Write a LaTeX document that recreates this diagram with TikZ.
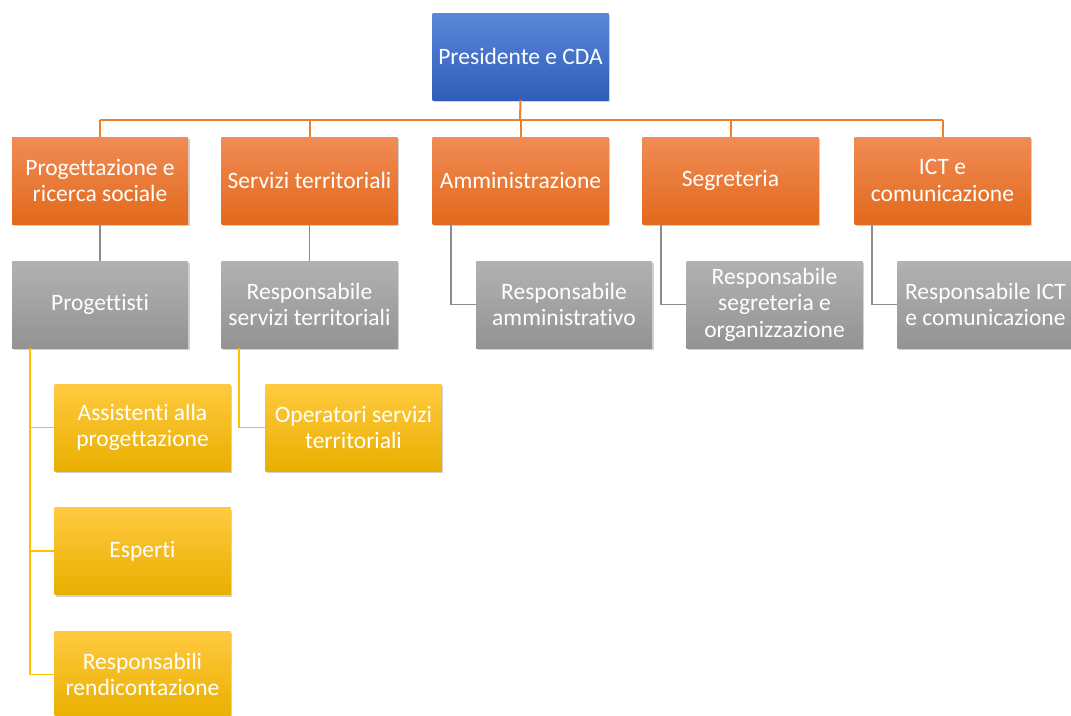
\documentclass[tikz,border=0pt]{standalone}
\usepackage{fontspec}
\setmainfont{Carlito}[Ligatures=NoCommon]
\usetikzlibrary{shadows}
\definecolor{bluetop}{HTML}{5A87D8}
\definecolor{bluebot}{HTML}{2F5DB9}
\definecolor{ortop}{HTML}{F08C55}
\definecolor{orbot}{HTML}{E2691C}
\definecolor{grtop}{HTML}{B2B2B2}
\definecolor{grbot}{HTML}{939393}
\definecolor{yetop}{HTML}{FFCA40}
\definecolor{yebot}{HTML}{E9AF00}
\definecolor{oline}{HTML}{ED7D31}
\definecolor{gline}{HTML}{8C8C8C}
\definecolor{yline}{HTML}{FFC000}
\tikzset{
  box/.style={rectangle, minimum width=176pt, minimum height=87pt, inner sep=1pt,
    text=white, align=center, font=\fontsize{23.5}{26.5}\selectfont,
    drop shadow={opacity=0.35, shadow xshift=1.5pt, shadow yshift=-2pt}},
  bluebox/.style={box, top color=bluetop, bottom color=bluebot},
  orbox/.style={box, top color=ortop, bottom color=orbot},
  grbox/.style={box, top color=grtop, bottom color=grbot},
  yebox/.style={box, top color=yetop, bottom color=yebot},
  oconn/.style={draw=oline, line width=2pt},
  gconn/.style={draw=gline, line width=1.8pt},
  yconn/.style={draw=yline, line width=1.8pt},
}
\begin{document}
\begin{tikzpicture}[x=1pt,y=-1pt]
\useasboundingbox (0,0) rectangle (1071,715);
\fill[white] (0,0) rectangle (1071,715);
\coordinate (bus) at (520,120);
\node[bluebox] (pres) at (520.5,56.5) {Presidente e CDA};
\node[orbox] (o1) at (100,180.5) {Progettazione e\\ricerca sociale};
\node[orbox] (o2) at (309.5,180.5) {Servizi territoriali};
\node[orbox] (o3) at (520.5,180.5) {Amministrazione};
\node[orbox] (o4) at (730.5,180.5) {Segreteria};
\node[orbox] (o5) at (942.5,180.5) {ICT e\\comunicazione};
\node[grbox] (g1) at (100,304.5) {Progettisti};
\node[grbox] (g2) at (309.5,304.5) {Responsabile\\servizi territoriali};
\node[grbox] (g3) at (564,304.5) {Responsabile\\amministrativo};
\node[grbox] (g4) at (774.5,304.5) {Responsabile\\segreteria e\\organizzazione};
\node[grbox] (g5) at (985.5,304.5) {Responsabile ICT\\e comunicazione};
\node[yebox] (y1) at (142.5,427.5) {Assistenti alla\\progettazione};
\node[yebox] (y2) at (142.5,551) {Esperti};
\node[yebox] (y3) at (142.5,674.5) {Responsabili\\rendicontazione};
\node[yebox] (y4) at (353.5,427.5) {Operatori servizi\\territoriali};
% connectors
\draw[oconn] (pres.south) -- (bus);
\draw[oconn] (o1.north |- bus) -- (o5.north |- bus);
\foreach \n in {o1,o2,o3,o4,o5} \draw[oconn] (\n.north |- bus) -- (\n.north);
\draw[gconn] (o1.south) -- (g1.north);
\draw[gconn] (o2.south) -- (g2.north);
\draw[gconn] ([xshift=19pt]o3.south west) |- (g3.west);
\draw[gconn] ([xshift=19pt]o4.south west) |- (g4.west);
\draw[gconn] ([xshift=18pt]o5.south west) |- (g5.west);
\draw[yconn] ([xshift=18pt]g1.south west) |- (y3.west);
\draw[yconn] ([xshift=18pt]g1.south west |- y1.west) -- (y1.west);
\draw[yconn] ([xshift=18pt]g1.south west |- y2.west) -- (y2.west);
\draw[yconn] ([xshift=18pt]g2.south west) |- (y4.west);
\end{tikzpicture}
\end{document}
